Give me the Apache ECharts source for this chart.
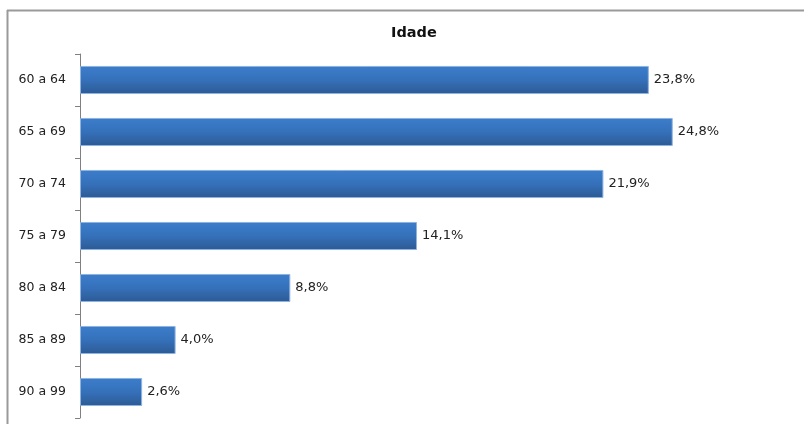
<!DOCTYPE html>
<html><head><meta charset="utf-8">
<script src="https://cdn.jsdelivr.net/npm/echarts@6/dist/echarts.min.js"></script>
<style>html,body{margin:0;padding:0;background:#fff}#c{width:804px;height:424px}</style>
</head><body><div id="c"></div>
<script>
const categories = ['60 a 64','65 a 69','70 a 74','75 a 79','80 a 84','85 a 89','90 a 99'];
const values = [23.8, 24.8, 21.9, 14.1, 8.8, 4.0, 2.6];
const chart = echarts.init(document.getElementById('c'), null, {renderer:'canvas'});
chart.setOption({
  animation:false,
  backgroundColor:'#fff',
  title:{text:'Idade',left:386,top:21,textStyle:{fontFamily:'DejaVu Sans',fontSize:14.5,fontWeight:'bold',color:'#111'}},
  graphic:[
    {type:'line',shape:{x1:7,y1:10.5,x2:804,y2:10.5},style:{stroke:'#9a9a9a',lineWidth:2}},
    {type:'line',shape:{x1:7.5,y1:10,x2:7.5,y2:424},style:{stroke:'#9a9a9a',lineWidth:2}}
  ],
  grid:{left:80,top:54,width:717,height:364,containLabel:false},
  xAxis:{type:'value',min:0,max:30,show:false},
  yAxis:{type:'category',data:categories,inverse:true,
    axisLine:{show:true,lineStyle:{color:'#808080',width:1}},
    axisTick:{show:true,length:5,lineStyle:{color:'#808080'}},
    axisLabel:{fontFamily:'DejaVu Sans',fontSize:12.5,color:'#222',margin:14}},
  series:[{type:'bar',data:values,barWidth:'54%',
    itemStyle:{color:new echarts.graphic.LinearGradient(0,0,0,1,[{offset:0,color:'#3c7dcb'},{offset:0.5,color:'#3571ba'},{offset:1,color:'#2d5a93'}]),borderColor:'#8fb3e0',borderWidth:1},
    label:{show:true,position:'right',distance:5,fontFamily:'DejaVu Sans',fontSize:13,color:'#222',
      formatter:p=>p.value.toFixed(1).replace('.',',')+'%'}}]
});
</script></body></html>
